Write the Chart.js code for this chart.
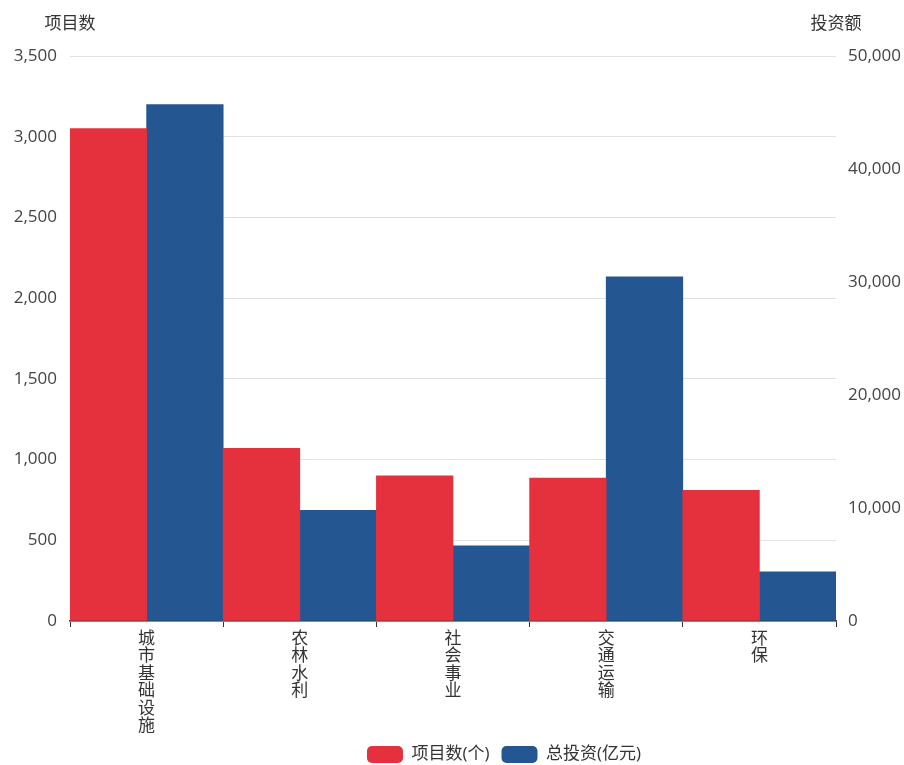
<!DOCTYPE html>
<html>
<head>
<meta charset="utf-8">
<script src="https://cdn.jsdelivr.net/npm/chart.js@4"></script>
<style>
    html, body { margin: 0; padding: 0; background: #fff; }
    #wrap { width: 904px; height: 765px; }
</style>
</head>
<body>
<div id="wrap"><canvas id="chart"></canvas></div>
<script>
const categories = ["城市基础设施", "农林水利", "社会事业", "交通运输", "环保"];
const projectCounts = [3050, 1070, 900, 885, 810];
const investments = [45700, 9800, 6650, 30450, 4350];
const leftTicks = { max: 3500, step: 500 };
const rightTicks = { max: 50000, step: 10000 };

const font = "'Open Sans', 'Noto Sans CJK SC', sans-serif";

// axis titles sit horizontally above each y axis
const axisTitles = {
    id: "axisTitles",
    afterDraw(chart)
    {
        const { ctx, chartArea } = chart;
        ctx.save();
        ctx.font = "17px " + font;
        ctx.fillStyle = "#333";
        ctx.textAlign = "center";
        ctx.textBaseline = "middle";
        ctx.fillText("项目数", chartArea.left, 24);
        ctx.fillText("投资额", chartArea.right, 24);
        ctx.restore();
    }
};

// the legend in the source sits right of centre and tucks under the labels
const legendShift = {
    id: "legendShift",
    afterLayout(chart)
    {
        const lg = chart.legend;
        lg.left += 52;
        lg.right += 52;
        lg.top -= 4;
        lg.bottom -= 4;
    }
};

new Chart(document.getElementById("chart"), {
    type: "bar",
    data: {
        labels: categories.map(c => c.split("")),
        datasets: [{
            label: "项目数(个)",
            data: projectCounts,
            backgroundColor: "#e5303e",
            yAxisID: "y"
        }, {
            label: "总投资(亿元)",
            data: investments,
            backgroundColor: "#245792",
            yAxisID: "y1"
        }]
    },
    options: {
        responsive: true,
        maintainAspectRatio: false,
        animation: false,
        locale: "en-US",
        layout: { padding: { top: 56, left: 0, right: 0, bottom: -12 } },
        datasets: { bar: { categoryPercentage: 1, barPercentage: 1 } },
        scales: {
            x: {
                grid: { offset: true, drawOnChartArea: false, color: "#333", tickLength: 6 },
                border: { color: "#333", width: 1.5 },
                ticks: { color: "#333", maxRotation: 0, padding: 3, font: { family: font, size: 17, lineHeight: "17.5px" } }
            },
            y: {
                position: "left",
                min: 0,
                max: leftTicks.max,
                afterFit: s => { s.width = 70; },
                grid: { color: "#e2e2e2", drawTicks: false },
                border: { display: false },
                ticks: { stepSize: leftTicks.step, color: "#444", padding: 13, font: { family: font, size: 17 } }
            },
            y1: {
                position: "right",
                min: 0,
                max: rightTicks.max,
                afterFit: s => { s.width = 68; },
                grid: { drawOnChartArea: false, drawTicks: false },
                border: { display: false },
                ticks: { stepSize: rightTicks.step, color: "#444", padding: 12, font: { family: font, size: 17 } }
            }
        },
        plugins: {
            legend: {
                position: "bottom",
                labels: {
                    boxWidth: 36,
                    boxHeight: 17,
                    useBorderRadius: true,
                    borderRadius: 5,
                    color: "#333",
                    padding: 12,
                    font: { family: font, size: 17 }
                }
            },
            tooltip: { enabled: false }
        }
    },
    plugins: [axisTitles, legendShift]
});
</script>
</body>
</html>
